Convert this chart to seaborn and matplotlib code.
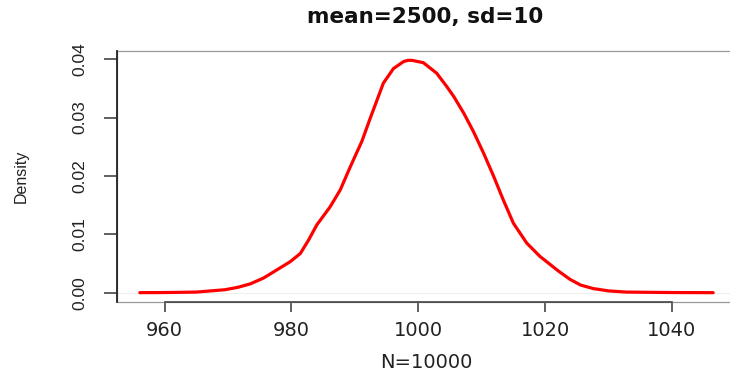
import numpy as np
import pandas as pd
import seaborn as sns
import matplotlib.pyplot as plt
from matplotlib.patches import Rectangle

# density curve
x_vals = [956.1, 960, 965, 969.5, 971.5, 973.5, 975.6, 977.7, 979.8, 981.4,
          982.7, 984.0, 986.1, 987.7, 989.3, 990.3, 991.1, 992.4, 994.5, 996.1,
          997.7, 998.4, 999.0, 1000.8, 1002.9, 1004.5, 1005.6, 1007.2, 1008.7, 1010.3,
          1011.9, 1013.4, 1015.0, 1017.1, 1019.2, 1020.6, 1022.1, 1023.9, 1025.6, 1027.6,
          1030, 1032.8, 1040, 1046.5]
dens_vals = [0.0, 0.00002, 0.0001, 0.0005, 0.0009, 0.0015, 0.0025, 0.0039, 0.0053, 0.0067,
             0.0090, 0.0116, 0.0147, 0.0176, 0.0216, 0.0240, 0.0259, 0.0298, 0.0359, 0.0384,
             0.0396, 0.0398, 0.0398, 0.0394, 0.0376, 0.0353, 0.0336, 0.0307, 0.0276, 0.0239,
             0.0199, 0.0159, 0.0119, 0.0085, 0.0062, 0.0050, 0.0037, 0.0023, 0.0013, 0.0007,
             0.0003, 0.0001, 0.00002, 0.0]
x_ticks = [960, 980, 1000, 1020, 1040]
y_ticks = [0.00, 0.01, 0.02, 0.03, 0.04]
y_labels = ['0.00', '0.01', '0.02', '0.03', '0.04']

df = pd.DataFrame({'x': x_vals, 'density': dens_vals})

sns.set_style('white')
plt.rcParams['font.family'] = ['DejaVu Sans']

fig = plt.figure(figsize=(7.3, 3.75), dpi=100)
ax = fig.add_axes([117 / 730, 1 - 302 / 375, 619 / 730, 251 / 375])

# faint zero line like R's plot.density
ax.axhline(0, color='#eeeeee', lw=0.8, zorder=1)
sns.lineplot(data=df, x='x', y='density', color='#ff0000', lw=2.3, ax=ax, zorder=3)
for l in ax.lines:
    l.set_solid_joinstyle('round')
    l.set_solid_capstyle('round')

ax.set_xlim(952.5, 1050.1)
ax.set_ylim(-0.0016, 0.0414)

# box in gray, axis lines darker between first and last tick
for s in ['top', 'right']:
    ax.spines[s].set_visible(False)
ax.add_patch(Rectangle((0, 0), 1, 1, transform=ax.transAxes, fill=False,
                       edgecolor='#999999', lw=0.9, clip_on=False, zorder=2))
ax.spines['left'].set_color('#222222')
ax.spines['left'].set_linewidth(1.3)
ax.spines['bottom'].set_color('#444444')
ax.spines['bottom'].set_linewidth(1.2)
ax.spines['bottom'].set_bounds(960, 1040)

ax.set_xticks(x_ticks)
ax.set_xticklabels([str(t) for t in x_ticks], fontsize=14, color='#222222')
ax.set_yticks(y_ticks)
ax.set_yticklabels(y_labels, rotation=90, va='center', fontsize=12.5,
                   family='Liberation Sans', color='#222222')
ax.tick_params(axis='x', bottom=True, length=7, width=1.2, color='#444444', pad=7)
ax.tick_params(axis='y', left=True, length=9.5, width=1.2, color='#444444', pad=12)

ax.set_xlabel('N=10000', fontsize=14, color='#222222', labelpad=9)
ax.set_ylabel('Density', fontsize=11.5, family='Liberation Sans', color='#222222', labelpad=31)
fig.text(425 / 730, 1 - 17 / 375, 'mean=2500, sd=10', ha='center', va='center',
         fontsize=15.5, fontweight='bold', color='#111111')

fig.savefig('out.png', dpi=100)
